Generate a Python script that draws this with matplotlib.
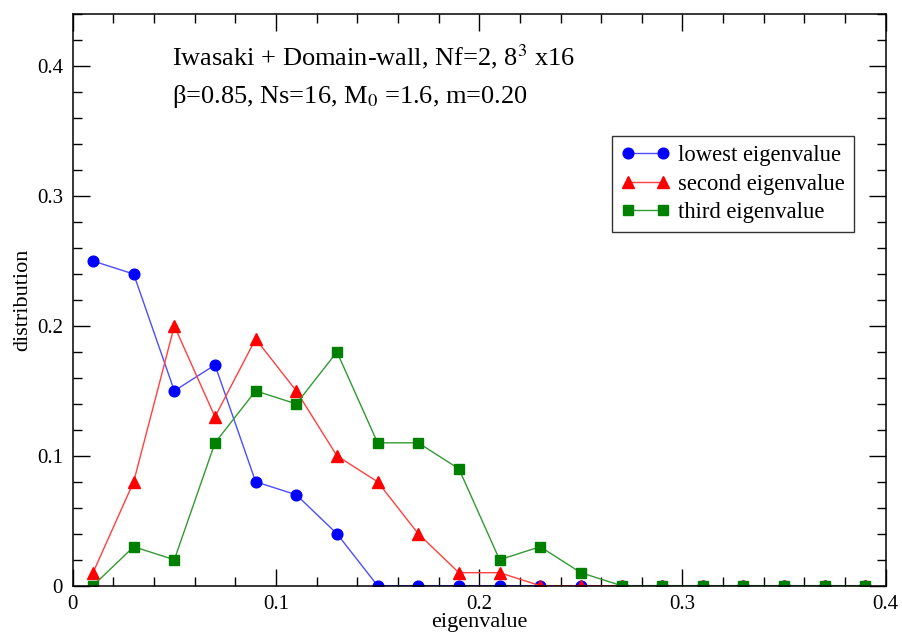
import matplotlib.pyplot as plt
from matplotlib.ticker import MultipleLocator, FuncFormatter

plt.rcParams['font.family'] = ['Liberation Serif', 'DejaVu Serif']
plt.rcParams['mathtext.fontset'] = 'stix'

eig = [0.01, 0.03, 0.05, 0.07, 0.09, 0.11, 0.13, 0.15, 0.17, 0.19,
       0.21, 0.23, 0.25, 0.27, 0.29, 0.31, 0.33, 0.35, 0.37, 0.39]
lowest = [0.25, 0.24, 0.15, 0.17, 0.08, 0.07, 0.04, 0, 0, 0,
          0, 0, 0, 0, 0, 0, 0, 0, 0, 0]
second = [0.01, 0.08, 0.20, 0.13, 0.19, 0.15, 0.10, 0.08, 0.04, 0.01,
          0.01, 0, 0, 0, 0, 0, 0, 0, 0, 0]
third = [0, 0.03, 0.02, 0.11, 0.15, 0.14, 0.18, 0.11, 0.11, 0.09,
         0.02, 0.03, 0.01, 0, 0, 0, 0, 0, 0, 0]

fig = plt.figure(figsize=(9.02, 6.38), dpi=100)
ax = fig.add_axes([0.0806, 0.082, 0.9014, 0.8956])

ax.plot(eig, lowest, color='#4d4dff', lw=1.0, marker='o', ms=7.7,
        mfc='blue', mec='blue', label='lowest eigenvalue')
ax.plot(eig, second, color='#ff4040', lw=1.0, marker='^', ms=8.7,
        mfc='red', mec='red', label='second eigenvalue')
ax.plot(eig, third, color='#339933', lw=1.0, marker='s', ms=7.5,
        mfc='green', mec='green', label='third eigenvalue')

ax.set_xlim(0, 0.4)
ax.set_ylim(0, 0.44)
ax.xaxis.set_major_locator(MultipleLocator(0.1))
ax.xaxis.set_minor_locator(MultipleLocator(0.02))
ax.yaxis.set_major_locator(MultipleLocator(0.1))
ax.yaxis.set_minor_locator(MultipleLocator(0.02))
fmt = FuncFormatter(lambda v, p: '%g' % round(v, 3))
ax.xaxis.set_major_formatter(fmt)
ax.yaxis.set_major_formatter(fmt)
ax.tick_params(which='both', direction='in', top=True, right=True,
               labelsize=15, width=1)
ax.tick_params(which='major', length=12, pad=7)
ax.tick_params(which='minor', length=6.5)
for s in ax.spines.values():
    s.set_linewidth(1.1)

ax.set_xlabel('eigenvalue', fontsize=16, labelpad=-1)
ax.set_ylabel('distribution', fontsize=16, labelpad=3)

# run parameters
ax.text(0.0487, 0.4075, r'Iwasaki + Domain-wall, Nf=2, 8$^3$ x16',
        fontsize=19, va='center')
ax.text(0.0487, 0.3765, r'β=0.85, Ns=16, M$_0$ =1.6, m=0.20',
        fontsize=19, va='center')

leg = ax.legend(loc='upper right', bbox_to_anchor=(0.9607, 0.787),
                borderaxespad=0, numpoints=2, fontsize=16.3, frameon=True,
                fancybox=False, edgecolor='black', handlelength=2.15,
                borderpad=0.4, labelspacing=0.33, handletextpad=0.35)
leg.get_frame().set_linewidth(1.0)

fig.savefig('out.png', dpi=100)
